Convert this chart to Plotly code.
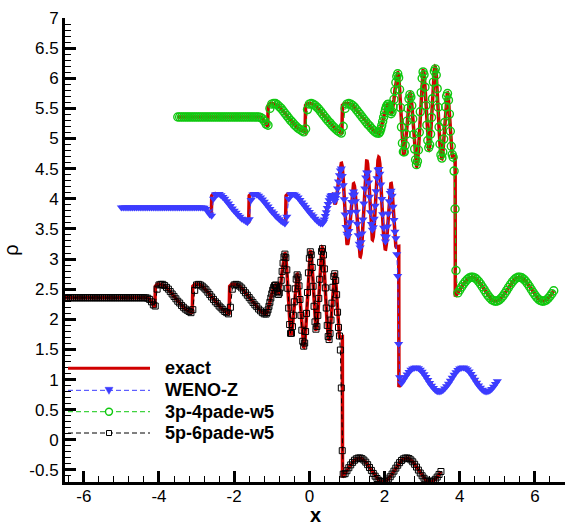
import plotly.graph_objects as go


def mesh(start, step, count):
    """Uniform cell-centre positions of a 1-D grid."""
    return [round(start + step * i, 4) for i in range(count)]


# ---------------------------------------------------------------------------
# Shu-Osher density profiles at t = 1.8 (frame of the WENO-Z run, x in [-5, 5]).
# The 3p-4pade-w5 and 5p-6pade-w5 results are drawn shifted by +1.5 / -1.5 in
# both x and rho so the three comparisons do not overlap.
# ---------------------------------------------------------------------------

# coarse part of the grid left of the entropy-wave region (-5.00 .. 0.30)
x_left = mesh(-5.00, 0.05, 107)
rho_left = [3.857] * 44 + [
    3.85, 3.83, 3.79, 3.74, 3.72, 4.00, 4.07, 4.08, 4.08, 4.06,
    4.03, 4.00, 3.96, 3.92, 3.88, 3.84, 3.80, 3.77, 3.73, 3.70,
    3.67, 3.65, 3.63, 3.61, 3.66, 3.98, 4.07, 4.08, 4.07, 4.05,
    4.02, 3.99, 3.95, 3.91, 3.87, 3.83, 3.79, 3.76, 3.72, 3.69,
    3.66, 3.63, 3.61, 3.59, 3.70, 4.00, 4.07, 4.08, 4.07, 4.05,
    4.02, 3.98, 3.94, 3.90, 3.86, 3.82, 3.78, 3.74, 3.71, 3.67,
    3.64, 3.61, 3.59,
]

# fine part through the high-frequency waves and the shock (0.350 .. 2.400)
x_fine = mesh(0.35, 0.025, 83)
rho_weno_fine = [
    3.590, 3.615, 3.657, 3.713, 3.778, 3.848, 3.915, 3.975, 4.022, 4.052,
    4.062, 4.045, 4.000, 3.965,
    4.012, 4.074, 4.171, 4.285, 4.390, 4.469, 4.504, 4.380, 4.226, 3.992,
    3.740, 3.531, 3.419, 3.381, 3.465, 3.609, 3.780, 3.945, 4.068, 4.122,
    4.070, 3.959, 3.785, 3.584, 3.395, 3.255, 3.193, 3.278, 3.425, 3.655,
    3.920, 4.170, 4.355, 4.438, 4.432, 4.271, 4.032, 3.778, 3.580, 3.487,
    3.528, 3.668, 3.884, 4.127, 4.342, 4.482, 4.495, 4.416, 4.238, 3.997,
    3.742, 3.521, 3.379, 3.292, 3.370, 3.539, 3.754, 3.957, 4.094, 4.134,
    4.049, 3.868, 3.646, 3.452, 3.344,
    3.08, 2.72, 1.59, 1.04,
]
rho_3p_fine = [
    3.587, 3.613, 3.657, 3.715, 3.782, 3.853, 3.922, 3.983, 4.029, 4.060,
    4.070, 4.034, 3.959, 3.912,
    3.945, 4.024, 4.149, 4.294, 4.430, 4.530, 4.575, 4.510, 4.312, 4.013,
    3.690, 3.423, 3.280, 3.278, 3.387, 3.570, 3.789, 4.000, 4.158, 4.228,
    4.188, 4.046, 3.825, 3.567, 3.325, 3.146, 3.066, 3.121, 3.309, 3.603,
    3.943, 4.262, 4.500, 4.605, 4.559, 4.352, 4.046, 3.722, 3.467, 3.349,
    3.394, 3.574, 3.850, 4.161, 4.436, 4.616, 4.656, 4.555, 4.327, 4.019,
    3.692, 3.409, 3.228, 3.175, 3.275, 3.491, 3.767, 4.026, 4.202, 4.246,
    4.136, 3.905, 3.621, 3.372, 3.234,
    3.19, 2.96, 2.33, 1.31,
]
rho_5p_fine = [
    3.587, 3.613, 3.657, 3.715, 3.782, 3.853, 3.922, 3.983, 4.029, 4.060,
    4.070, 4.034, 3.959, 3.912,
    3.938, 4.020, 4.147, 4.295, 4.433, 4.536, 4.582, 4.523, 4.321, 4.015,
    3.686, 3.413, 3.267, 3.269, 3.379, 3.567, 3.790, 4.006, 4.166, 4.238,
    4.200, 4.055, 3.828, 3.566, 3.319, 3.135, 3.054, 3.106, 3.298, 3.598,
    3.945, 4.271, 4.513, 4.621, 4.571, 4.360, 4.048, 3.716, 3.457, 3.336,
    3.382, 3.565, 3.847, 4.164, 4.445, 4.628, 4.672, 4.568, 4.336, 4.021,
    3.687, 3.399, 3.213, 3.164, 3.266, 3.487, 3.768, 4.032, 4.212, 4.256,
    4.145, 3.908, 3.618, 3.365, 3.223,
    2.99, 2.36, 1.32, 0.93,
]

# undisturbed sine-wave state ahead of the shock (2.40 .. 5.00)
x_post = mesh(2.40, 0.05, 53)
rho_post = [
    0.893, 0.938, 0.987, 1.037, 1.084, 1.126, 1.161, 1.185, 1.198, 1.199,
    1.187, 1.164, 1.130, 1.088, 1.041, 0.992, 0.942, 0.897, 0.858, 0.827,
    0.808, 0.800, 0.804, 0.821, 0.850, 0.887, 0.932, 0.980, 1.030, 1.078,
    1.121, 1.157, 1.183, 1.197, 1.199, 1.189, 1.167, 1.135, 1.094, 1.048,
    0.998, 0.949, 0.903, 0.862, 0.831, 0.810, 0.800, 0.804, 0.819, 0.845,
    0.882, 0.925, 0.974,
]

# reference ("exact") solution behind the shock
exact_x = [
    -5.00, -2.80, -2.75, -2.70, -2.65, -2.61, -2.595, -2.55, -2.50, -2.45,
    -2.40, -2.35, -2.30, -2.25, -2.20, -2.15, -2.10, -2.05, -2.00, -1.95,
    -1.90, -1.85, -1.80, -1.75, -1.70, -1.65, -1.615, -1.60, -1.55, -1.50,
    -1.45, -1.40, -1.35, -1.30, -1.25, -1.20, -1.15, -1.10, -1.05, -1.00,
    -0.95, -0.90, -0.85, -0.80, -0.75, -0.70, -0.65, -0.635, -0.62, -0.57,
    -0.52, -0.45, -0.40, -0.35, -0.30, -0.25, -0.20, -0.15, -0.10, -0.05,
    0.00, 0.05, 0.10, 0.15, 0.20, 0.25, 0.30, 0.33,
    0.35, 0.375, 0.40, 0.425, 0.45, 0.475, 0.50, 0.525, 0.55, 0.575,
    0.60, 0.625, 0.65, 0.675, 0.68, 0.70, 0.725, 0.75, 0.775, 0.80,
    0.825, 0.85, 0.855, 0.875, 0.90, 0.925, 0.95, 0.975, 1.00, 1.01,
    1.025, 1.05, 1.075, 1.10, 1.125, 1.15, 1.175, 1.18, 1.20, 1.225,
    1.25, 1.275, 1.30, 1.325, 1.35, 1.355, 1.375, 1.40, 1.425, 1.45,
    1.475, 1.50, 1.525, 1.53, 1.55, 1.575, 1.60, 1.625, 1.65, 1.675,
    1.68, 1.70, 1.725, 1.75, 1.775, 1.80, 1.825, 1.845, 1.85, 1.875,
    1.90, 1.925, 1.95, 1.975, 2.00, 2.02, 2.025, 2.05, 2.075, 2.10,
    2.125, 2.15, 2.17, 2.175, 2.20, 2.225, 2.25, 2.275, 2.30, 2.31,
    2.34, 2.378, 2.382,
]
exact_rho = [
    3.857, 3.857, 3.83, 3.79, 3.74, 3.70, 4.05, 4.08, 4.085, 4.08,
    4.07, 4.06, 4.03, 4.00, 3.96, 3.92, 3.88, 3.84, 3.80, 3.77,
    3.73, 3.70, 3.67, 3.65, 3.63, 3.61, 3.60, 4.05, 4.08, 4.085,
    4.08, 4.07, 4.05, 4.02, 3.99, 3.95, 3.91, 3.87, 3.83, 3.79,
    3.76, 3.72, 3.69, 3.66, 3.63, 3.61, 3.59, 3.58, 4.05, 4.08,
    4.085, 4.08, 4.07, 4.05, 4.02, 3.98, 3.94, 3.90, 3.86, 3.82,
    3.78, 3.74, 3.71, 3.67, 3.64, 3.61, 3.59, 3.58,
    3.587, 3.613, 3.657, 3.715, 3.782, 3.853, 3.922, 3.983, 4.029, 4.060,
    4.070, 4.034, 3.959, 3.912, 3.910, 3.932, 4.015, 4.145, 4.296, 4.437,
    4.542, 4.589, 4.590, 4.535, 4.329, 4.017, 3.681, 3.403, 3.254, 3.240,
    3.259, 3.372, 3.563, 3.791, 4.011, 4.175, 4.248, 4.250, 4.211, 4.063,
    3.832, 3.564, 3.312, 3.125, 3.042, 3.040, 3.091, 3.287, 3.593, 3.947,
    4.280, 4.527, 4.637, 4.640, 4.583, 4.368, 4.049, 3.711, 3.446, 3.323,
    3.320, 3.369, 3.556, 3.844, 4.167, 4.454, 4.641, 4.690, 4.687, 4.581,
    4.344, 4.023, 3.682, 3.388, 3.199, 3.150, 3.153, 3.257, 3.482, 3.769,
    4.039, 4.222, 4.270, 4.267, 4.153, 3.912, 3.616, 3.357, 3.213, 3.200,
    3.200, 3.210, 0.878,
]

assert len(x_left) == len(rho_left)
assert len(x_fine) == len(rho_weno_fine) == len(rho_3p_fine) == len(rho_5p_fine)
assert len(x_post) == len(rho_post)
assert len(exact_x) == len(exact_rho)

scheme_names = ["WENO-Z", "3p-4pade-w5", "5p-6pade-w5"]
scheme_fine = [rho_weno_fine, rho_3p_fine, rho_5p_fine]
scheme_shift = [0.0, 1.5, -1.5]

x_ticks = [-6, -4, -2, 0, 2, 4, 6]
x_ticklabels = ["-6", "-4", "-2", "0", "2", "4", "6"]
y_ticks = [-0.5, 0, 0.5, 1, 1.5, 2, 2.5, 3, 3.5, 4, 4.5, 5, 5.5, 6, 6.5, 7]
y_ticklabels = ["-0.5", "0", "0.5", "1", "1.5", "2", "2.5", "3", "3.5",
                "4", "4.5", "5", "5.5", "6", "6.5", "7"]

# ---------------------------------------------------------------------------
FONT = "Arial, Liberation Sans, Helvetica, sans-serif"
RED = "#d00000"
styles = [
    dict(color="#3c3cff", symbol="triangle-down", size=8, lw=0),
    dict(color="#10c810", symbol="circle-open", size=8, lw=1.4),
    dict(color="#000000", symbol="square-open", size=6, lw=1),
]
DASH = "5px,3px"

fig = go.Figure()

# exact solution, once per shifted copy
for s in scheme_shift:
    fig.add_trace(go.Scatter(
        x=[v + s for v in exact_x + x_post],
        y=[v + s for v in exact_rho + rho_post],
        mode="lines", line=dict(color=RED, width=3.5),
        showlegend=False, hoverinfo="skip",
    ))

# numerical solutions on the grid
for name, fine, s, st in zip(scheme_names, scheme_fine, scheme_shift, styles):
    xs = x_left + x_fine + x_post[1:]
    ys = rho_left + fine + rho_post[1:]
    fig.add_trace(go.Scatter(
        x=[v + s for v in xs], y=[v + s for v in ys], name=name,
        mode="lines+markers",
        line=dict(color=st["color"], width=1, dash=DASH),
        marker=dict(symbol=st["symbol"], size=st["size"], color=st["color"],
                    line=dict(width=st["lw"], color=st["color"])),
        showlegend=False,
    ))

# legend drawn inside the lower-left corner of the frame
legend_rows = [
    ("exact", RED, "solid", 3, None),
    ("WENO-Z", styles[0]["color"], DASH, 1, "tri"),
    ("3p-4pade-w5", styles[1]["color"], DASH, 1, "circ"),
    ("5p-6pade-w5", styles[2]["color"], DASH, 1, "sq"),
]
row_y = [0.245, 0.1976, 0.1515, 0.1056]
shapes, annotations = [], []
for (label, col, dash, w, mk), yy in zip(legend_rows, row_y):
    shapes.append(dict(type="line", xref="paper", yref="paper",
                       x0=0.006, x1=0.170, y0=yy, y1=yy,
                       line=dict(color=col, width=w, dash=dash)))
    common = dict(xref="paper", yref="paper", xsizemode="pixel",
                  ysizemode="pixel", xanchor=0.088, yanchor=yy)
    if mk == "tri":
        shapes.append(dict(type="path", path="M-4,3L4,3L0,-4Z",
                           fillcolor=col, line=dict(color=col, width=0.5),
                           **common))
    elif mk == "circ":
        shapes.append(dict(type="circle", x0=-3.5, x1=3.5, y0=-3.5, y1=3.5,
                           fillcolor="white", line=dict(color=col, width=1.4),
                           **common))
    elif mk == "sq":
        shapes.append(dict(type="rect", x0=-2.5, x1=2.5, y0=-2.5, y1=2.5,
                           fillcolor="white", line=dict(color=col, width=1),
                           **common))
    annotations.append(dict(xref="paper", yref="paper", x=0.196, y=yy,
                            xanchor="left", yanchor="middle", showarrow=False,
                            text="<b>%s</b>" % label,
                            font=dict(family=FONT, size=18, color="black")))

# x-axis title sits just under the tick labels
annotations.append(dict(xref="paper", yref="paper", x=0.5, y=-0.071,
                        xanchor="center", yanchor="middle", showarrow=False,
                        text="<b>x</b>",
                        font=dict(family=FONT, size=20, color="black")))

axis_common = dict(
    ticks="inside", ticklen=11, tickwidth=2.5, tickcolor="black",
    showline=True, linecolor="black", linewidth=3,
    showgrid=False, zeroline=False,
    tickfont=dict(family=FONT, size=17, color="black"),
)

fig.update_layout(
    width=565, height=525,
    margin=dict(l=65, r=0, t=18, b=43, pad=0),
    paper_bgcolor="white", plot_bgcolor="white",
    showlegend=False,
    shapes=shapes, annotations=annotations,
    xaxis=dict(
        range=[-6.5, 6.8], tickmode="array", tickvals=x_ticks,
        ticktext=x_ticklabels, ticklabelstandoff=-3,
        minor=dict(tickmode="linear", tick0=0, dtick=0.4, ticks="inside",
                   ticklen=6, tickwidth=1, tickcolor="black", showgrid=False),
        **axis_common,
    ),
    yaxis=dict(
        range=[-0.7, 7], tickmode="array", tickvals=y_ticks,
        ticktext=y_ticklabels,
        minor=dict(tickmode="linear", tick0=0, dtick=0.1, ticks="inside",
                   ticklen=6, tickwidth=1, tickcolor="black", showgrid=False),
        title=dict(text="ρ", standoff=6,
                   font=dict(family=FONT, size=20, color="black")),
        **axis_common,
    ),
)

fig.write_html("out.html")
